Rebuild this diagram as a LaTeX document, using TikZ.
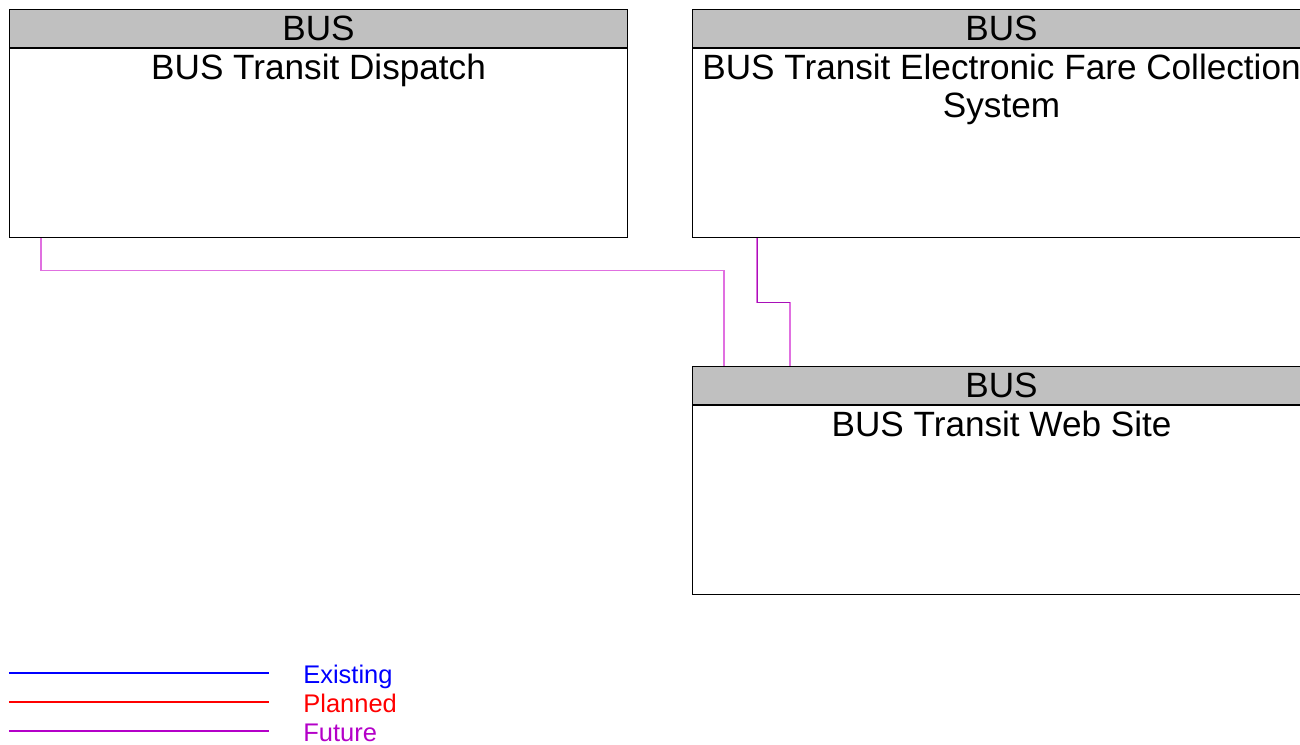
\documentclass[tikz,border=0pt]{standalone}
\usepackage{fontspec}
\setmainfont{Liberation Sans}
\usetikzlibrary{positioning,calc}

\definecolor{hdrgray}{RGB}{192,192,192}
\definecolor{futpink}{RGB}{224,112,224}
\definecolor{futdark}{RGB}{168,16,184}
\definecolor{futleg}{RGB}{180,0,200}

\tikzset{
  hdr/.style={draw=black,line width=0.6pt,fill=hdrgray,minimum width=12.36cm,
    minimum height=0.76cm,inner sep=0pt,font=\fontsize{20}{21.5}\selectfont},
  bodybox/.style={draw=black,line width=0.6pt,minimum width=12.36cm,
    minimum height=3.78cm,inner sep=0pt},
  title/.style={anchor=north,align=center,inner xsep=0pt,inner ysep=3.1pt,
    font=\fontsize{20}{21.5}\selectfont},
  legtxt/.style={anchor=base west,inner sep=0pt,font=\fontsize{14.5}{16}\selectfont},
}

\begin{document}
\begin{tikzpicture}
  \clip (0,0) rectangle (26,-14.9);
  \useasboundingbox (0,0) rectangle (26,-14.9);

  % boxes
  \node[hdr,anchor=north west] (dispH) at (0.18,-0.18) {BUS};
  \node[bodybox,below=0pt of dispH] (disp) {};
  \node[title] at (disp.north) {BUS Transit Dispatch};

  \node[hdr,anchor=north west] (efcH) at (13.84,-0.18) {BUS};
  \node[bodybox,below=0pt of efcH] (efc) {};
  \node[title] at (efc.north) {BUS Transit Electronic Fare Collection\\System};

  \node[hdr,anchor=north west] (webH) at (13.84,-7.32) {BUS};
  \node[bodybox,below=0pt of webH] (web) {};
  \node[title] at (web.north) {BUS Transit Web Site};

  % connectors
  \draw[futpink,line width=0.6pt] ([xshift=0.64cm]disp.south west) -- ++(0,-0.64)
    -| ([xshift=0.64cm]webH.north west);
  \draw[futpink,line width=0.6pt] ([xshift=1.3cm]efc.south west) -- ++(0,-1.28)
    -| ([xshift=1.96cm]webH.north west);
  \draw[futdark,line width=0.5pt] ([xshift=1.3cm]efc.south west) -- ++(0,-1.28)
    -- ++(0.66,0);

  % legend
  \foreach \y/\col/\t in {-13.46/blue/Existing,-14.04/red/Planned,-14.62/futleg/Future}{
    \draw[draw=\col,line width=0.6pt] (0.18,\y) -- (5.38,\y);
    \node[legtxt,text=\col] at (6.06,\y-0.2) {\t};
  }
\end{tikzpicture}
\end{document}
